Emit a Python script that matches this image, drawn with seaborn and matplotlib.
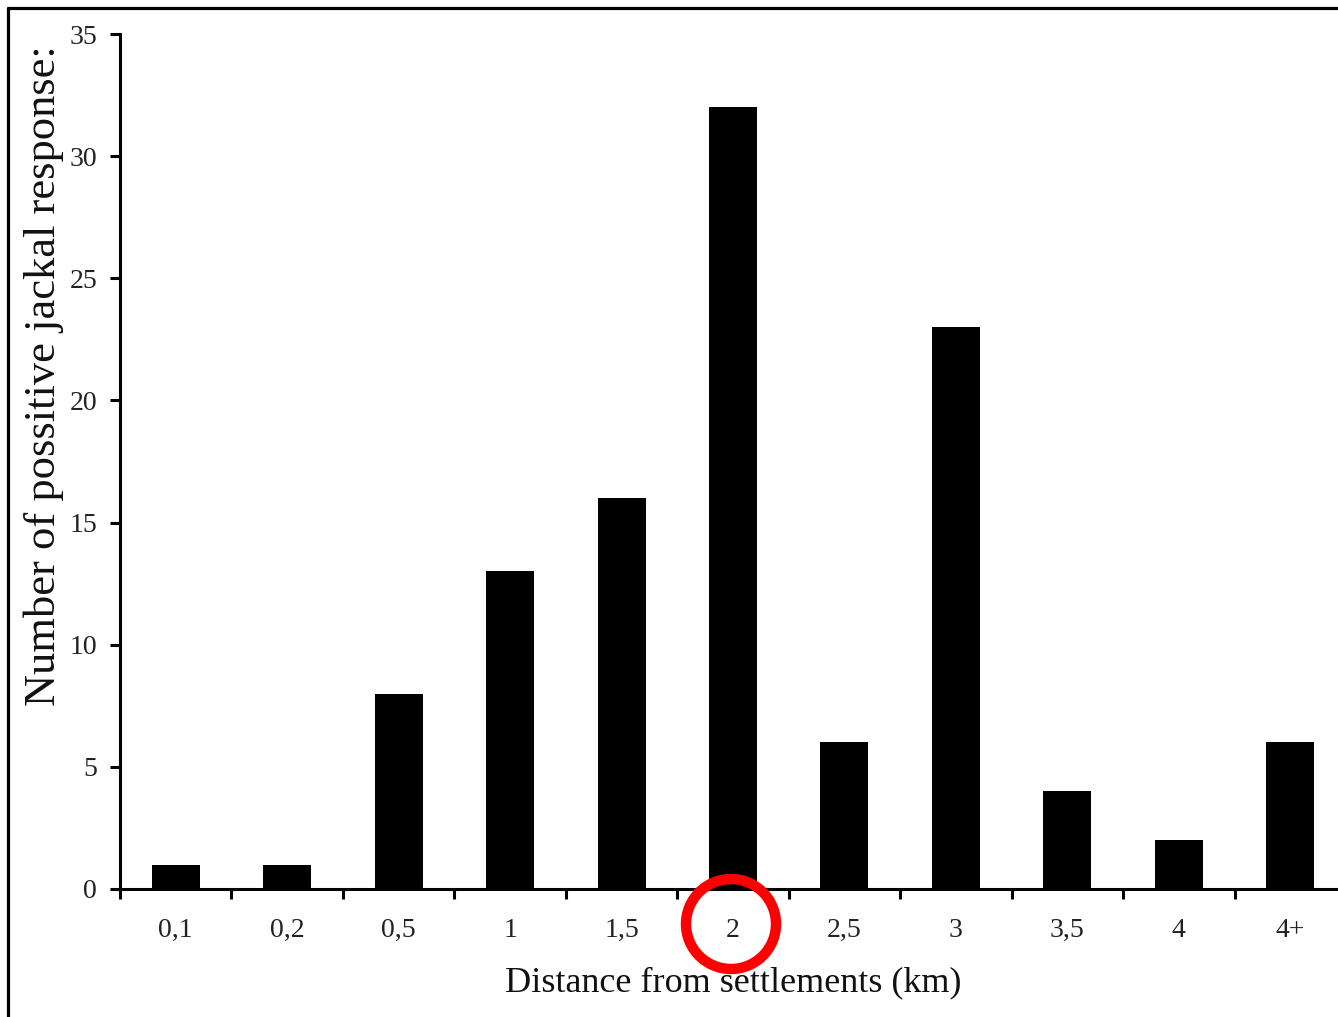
import matplotlib
matplotlib.use("Agg")
import matplotlib.pyplot as plt
import seaborn as sns
import pandas as pd
from matplotlib.lines import Line2D
from matplotlib.patches import Ellipse

categories = ["0,1", "0,2", "0,5", "1", "1,5", "2", "2,5", "3", "3,5", "4", "4+"]
responses = [1, 1, 8, 13, 16, 32, 6, 23, 4, 2, 6]
y_ticks = [0, 5, 10, 15, 20, 25, 30, 35]

sns.set_theme(style="white")
plt.rcParams["font.family"] = ["Liberation Serif", "DejaVu Serif"]

W, H = 1338, 1017
fig = plt.figure(figsize=(W / 100, H / 100), dpi=100)
ax = fig.add_axes([120 / W, 1 - 889 / H, 1226 / W, (889 - 34) / H])

df = pd.DataFrame({"dist": categories, "n": responses})
sns.barplot(data=df, x="dist", y="n", order=categories, color="black",
            saturation=1, width=0.43, edgecolor="none", linewidth=0, ax=ax)

ax.set_xlim(-0.5, len(categories) - 0.5)
ax.set_ylim(0, 35)
ax.set_yticks(y_ticks)
ax.set_yticklabels([str(t) for t in y_ticks])

for s in ["top", "right"]:
    ax.spines[s].set_visible(False)
for s in ["left", "bottom"]:
    ax.spines[s].set_visible(True)
    ax.spines[s].set_color("black")
    ax.spines[s].set_linewidth(2.2)

ax.set_xticks(range(len(categories)))
ax.set_xticklabels(categories)
ax.set_xticks([i - 0.5 for i in range(len(categories) + 1)], minor=True)
ax.tick_params(axis="x", which="major", length=0, pad=21, labelsize=20, colors="#222222")
ax.tick_params(axis="x", which="minor", length=7.5, width=2.2, color="black", direction="out", bottom=True)
ax.tick_params(axis="y", which="major", length=7.5, width=2.2, color="black", direction="out",
               left=True, pad=9, labelsize=20, labelcolor="#222222")

ax.set_xlabel("Distance from settlements (km)", fontsize=26, color="#111111")
ax.set_ylabel("Number of possitive jackal response:", fontsize=32, color="#111111")
ax.xaxis.set_label_coords(0.5, -0.091)
ax.yaxis.set_label_coords(-0.046, 0.60)

# frame lines around figure (left and top)
fig.add_artist(Line2D([8 / W, 8 / W], [0, 1 - 8 / H], transform=fig.transFigure, color="black", lw=2.3))
fig.add_artist(Line2D([8 / W, 1], [1 - 8 / H, 1 - 8 / H], transform=fig.transFigure, color="black", lw=2.3))

# red highlight circle around the "2" label
fig.add_artist(Ellipse((731 / W, 1 - 924 / H), 2 * 45 / W, 2 * 45 / H,
                       transform=fig.transFigure, fill=False, edgecolor="red", lw=7.5))

fig.savefig("out.png", dpi=100)
